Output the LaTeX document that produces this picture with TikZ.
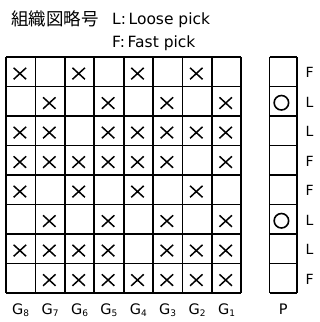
\documentclass[tikz,border=0pt]{standalone}
\usepackage{fontspec}
\setmainfont{DejaVu Sans}
\newfontfamily\jpfont{Noto Sans CJK JP}
\usetikzlibrary{shapes.misc}

\newcommand{\gsub}[1]{G\raisebox{-0.3ex}{\fontsize{9}{9}\selectfont #1}}

\begin{document}
\begin{tikzpicture}[
    x=1pt, y=-1pt,
    gridline/.style={line width=1.8pt},
    xcross/.style={cross out, draw, minimum width=11pt, minimum height=10pt, inner sep=0pt,
        line width=1.5pt, xshift=-0.8pt, yshift=-1.8pt},
    ocircle/.style={circle, draw, minimum size=14.5pt, inner sep=0pt, line width=1.6pt,
        xshift=-1.8pt, yshift=-1.5pt},
    lbl/.style={inner sep=0pt, font=\fontsize{15.5}{15.5}\selectfont},
    side/.style={inner sep=0pt, anchor=base west, font=\fontsize{14}{14}\selectfont},
    bottom/.style={inner sep=0pt, anchor=base, font=\fontsize{14.5}{14.5}\selectfont}
]
    \useasboundingbox (0,0) rectangle (320,322);

    % heading
    \node[inner sep=0pt, anchor=west, font=\fontsize{17.5}{17.5}\jpfont] (title) at (11,18.5) {組織図略号};
    \node[lbl, anchor=base west] (lkey) at (112,24) {L:\,Loose pick};
    \node[lbl, anchor=base west] (fkey) at (112,47) {F:\,Fast pick};

    % weave grid G8 ... G1
    \foreach \i in {0,...,8} {
        \draw[gridline] ({6+\i*29.4},57) -- ({6+\i*29.4},293);
        \draw[gridline] (6,{57+\i*29.5}) -- (241.2,{57+\i*29.5});
    }
    \foreach \rowvals [count=\r] in {
        {1,0,1,0,1,0,1,0},
        {0,1,0,1,0,1,0,1},
        {1,1,0,1,1,1,1,1},
        {1,1,1,1,1,1,0,1},
        {1,0,1,0,1,0,1,0},
        {0,1,0,1,0,1,0,1},
        {1,1,1,1,0,1,1,1},
        {0,1,1,1,1,1,1,1}} {
        \foreach \v [count=\c] in \rowvals {
            \ifnum\v=1
                \node[xcross] (x\r-\c) at ({6+(\c-0.5)*29.4},{57+(\r-0.5)*29.5}) {};
            \fi
        }
    }

    % pick column
    \foreach \i in {0,...,8}
        \draw[gridline] (269.5,{57+\i*29.5}) -- (297,{57+\i*29.5});
    \draw[gridline] (269.5,57) -- (269.5,293);
    \draw[gridline] (297,57) -- (297,293);
    \node[ocircle] (o2) at (283.2,{57+1.5*29.5}) {};
    \node[ocircle] (o6) at (283.2,{57+5.5*29.5}) {};

    \foreach \p [count=\r] in {F,L,L,F,F,L,L,F}
        \node[side] (pk\r) at (305.5,{57+(\r-0.5)*29.5+6}) {\p};

    % labels below
    \foreach \g [count=\c] in {8,7,6,5,4,3,2,1}
        \node[bottom] (g\g) at ({6+(\c-0.5)*29.4},314.5) {\gsub{\g}};
    \node[bottom] (plbl) at (283.2,314.5) {P};
\end{tikzpicture}
\end{document}
